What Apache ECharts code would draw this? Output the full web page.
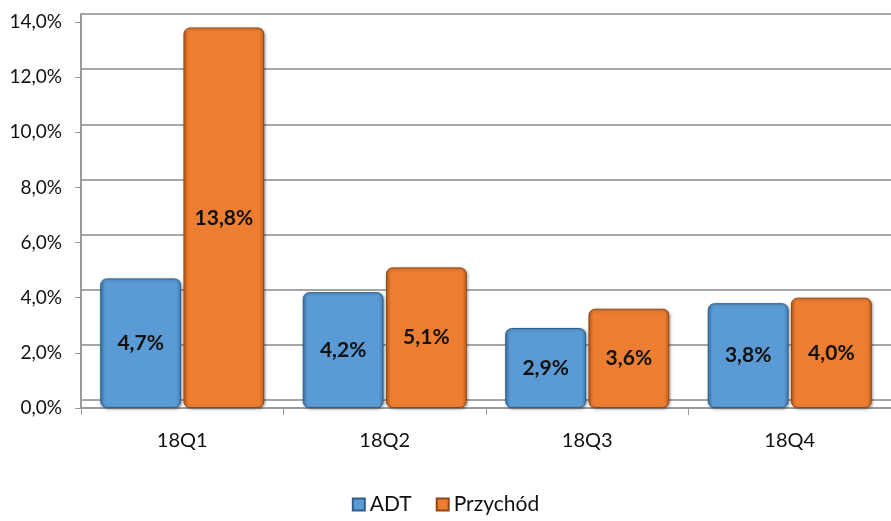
<!DOCTYPE html>
<html><head><meta charset="utf-8">
<script src="https://cdn.jsdelivr.net/npm/echarts@6/dist/echarts.min.js"></script>
<style>html,body{margin:0;padding:0;background:#fff}#c{width:891px;height:521px}</style>
</head><body><div id="c"></div>
<script>
const categories = ['18Q1', '18Q2', '18Q3', '18Q4'];
const adt = [4.7, 4.2, 2.9, 3.8];
const przychod = [13.8, 5.1, 3.6, 4.0];
const seriesNames = ['ADT', 'Przychód'];
const yMin = 0, yMax = 14, yStep = 2;

const fmt = v => v.toFixed(1).replace('.', ',') + '%';
const font = 'Lato, "Open Sans", sans-serif';

function grad(mid, dark) {
  return new echarts.graphic.LinearGradient(0, 0, 1, 0, [
    {offset: 0, color: dark}, {offset: 0.06, color: mid}, {offset: 0.94, color: mid}, {offset: 1, color: dark}
  ]);
}

const chart = echarts.init(document.getElementById('c'), null, {renderer: 'canvas'});
const barStyle = (c, border) => ({
  color: c, borderColor: border, borderWidth: 1, borderRadius: 6,
  shadowColor: 'rgba(0,0,0,0.35)', shadowBlur: 3, shadowOffsetX: 1, shadowOffsetY: 1
});
const labelStyle = {show: true, position: 'inside', formatter: p => fmt(p.value),
  fontFamily: font, fontWeight: 'bold', fontSize: 21, color: '#111'};
chart.setOption({
  animation: false,
  backgroundColor: '#ffffff',
  grid: [
    {left: 81, top: 22, width: 820, height: 386},
    {left: 81, top: 14, width: 820, height: 386}
  ],
  legend: {
    bottom: 1, left: 'center', itemWidth: 12, itemHeight: 12, itemGap: 24,
    icon: 'rect',
    textStyle: {fontFamily: font, fontSize: 21, color: '#111'},
    data: seriesNames
  },
  xAxis: [
    {type: 'category', gridIndex: 0, data: categories,
     axisLine: {lineStyle: {color: '#9a9a9a', width: 2}},
     axisTick: {show: true, length: 7, lineStyle: {color: '#9a9a9a', width: 1}},
     axisLabel: {fontFamily: font, fontSize: 20, color: '#111', margin: 23}},
    {type: 'category', gridIndex: 1, data: categories, show: false}
  ],
  yAxis: [
    {type: 'value', gridIndex: 0, min: yMin, max: yMax, interval: yStep,
     axisLine: {show: true, lineStyle: {color: '#9a9a9a', width: 2}},
     axisTick: {show: true, length: 6, lineStyle: {color: '#9a9a9a'}},
     splitLine: {show: false},
     axisLabel: {fontFamily: font, fontSize: 19, color: '#111', margin: 19, formatter: fmt}},
    {type: 'value', gridIndex: 1, min: yMin, max: yMax, interval: yStep,
     axisLine: {show: true, lineStyle: {color: '#9a9a9a', width: 2}},
     axisTick: {show: false}, axisLabel: {show: false},
     splitLine: {show: true, lineStyle: {color: '#a6a6a6', width: 2}}}
  ],
  series: [
    {name: seriesNames[0], type: 'bar', xAxisIndex: 0, yAxisIndex: 0, data: adt,
     barGap: '3%', barCategoryGap: '19%', z: 5,
     itemStyle: barStyle(grad('#5b9bd5', '#3f7fb8'), '#2e5f8c'),
     label: labelStyle},
    {name: seriesNames[1], type: 'bar', xAxisIndex: 0, yAxisIndex: 0, data: przychod,
     barGap: '3%', barCategoryGap: '19%', z: 5,
     itemStyle: barStyle(grad('#ed7d31', '#c8621c'), '#8f4514'),
     label: labelStyle}
  ]
});
</script></body></html>
